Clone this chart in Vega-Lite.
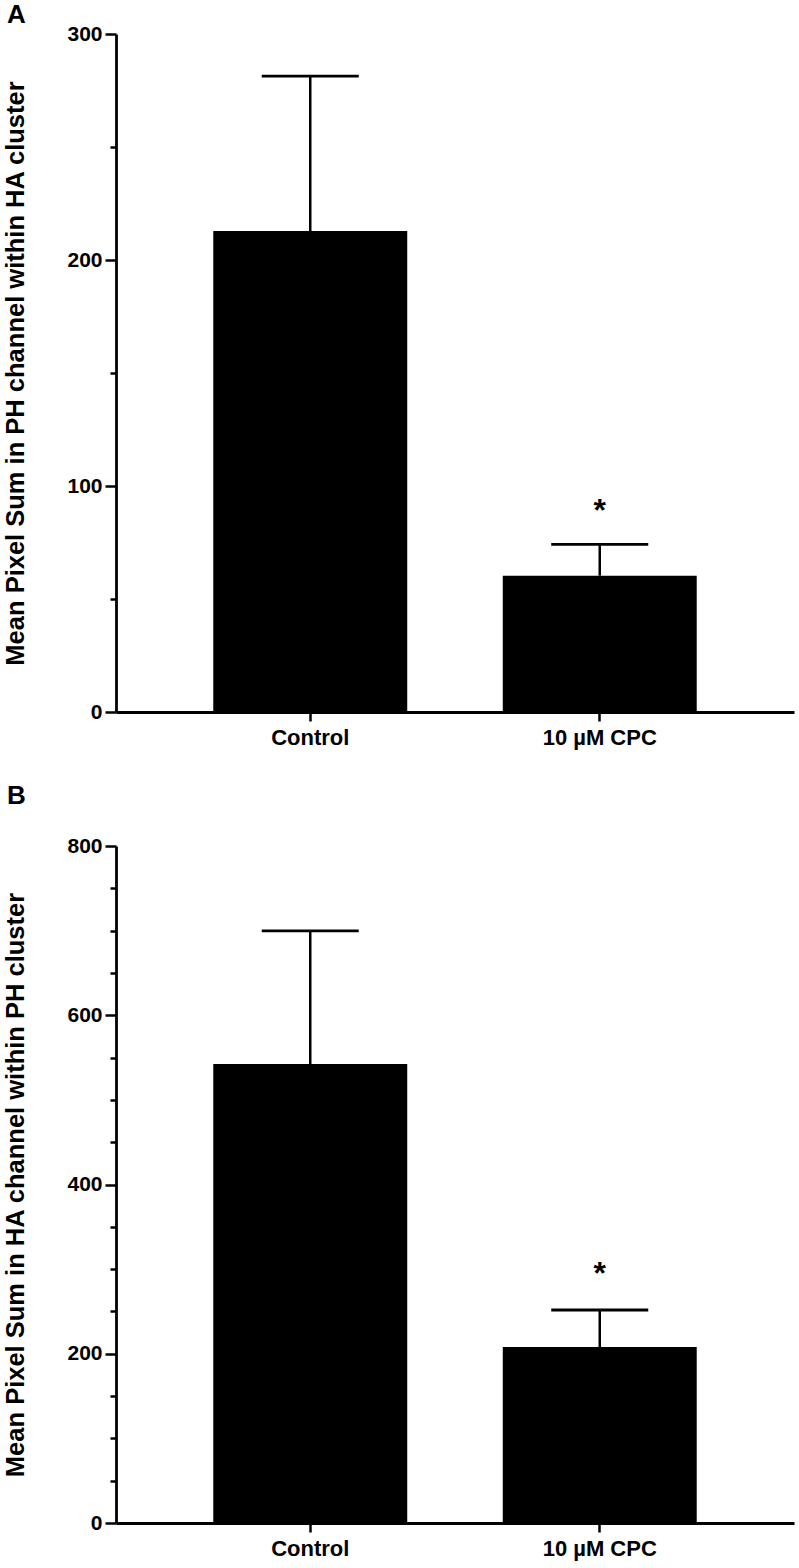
{
  "$schema": "https://vega.github.io/schema/vega-lite/v6.json",
  "background": "white",
  "padding": {"left": 3, "top": 2, "right": 3, "bottom": 5},
  "spacing": 35,
  "config": {
    "font": "Liberation Sans",
    "view": {"stroke": null},
    "axis": {
      "grid": false,
      "domainColor": "black",
      "domainWidth": 2.8,
      "tickColor": "black",
      "tickWidth": 2.5,
      "labelColor": "black",
      "labelFont": "Liberation Sans",
      "labelFontSize": 21,
      "labelFontWeight": "bold",
      "titleColor": "black",
      "titleFont": "Liberation Sans",
      "titleFontSize": 25.5,
      "titleFontWeight": "bold"
    },
    "title": {"font": "Liberation Sans", "fontSize": 26, "fontWeight": "bold", "color": "black", "anchor": "start", "frame": "bounds"}
  },
  "vconcat": [
    {
      "width": 678,
      "height": 678,
      "title": {"text": "A", "offset": -5, "dx": 3},
      "data": {"values": [
        {"group": "Control", "mean": 212.8, "upper": 281.4, "star": ""},
        {"group": "10 µM CPC", "mean": 60.3, "upper": 74.2, "star": "*"}
      ]},
      "encoding": {
        "x": {"field": "group", "type": "nominal", "sort": ["Control", "10 µM CPC"],
          "scale": {"paddingInner": 0.33, "paddingOuter": 0.336},
          "axis": {"title": null, "labelAngle": 0, "tickSize": 9, "labelPadding": 6, "labelFontSize": 22}}
      },
      "layer": [
        {"mark": {"type": "bar", "color": "black", "opacity": 1},
          "encoding": {"y": {"field": "mean", "type": "quantitative", "scale": {"domain": [0, 300]},
            "axis": {"title": "Mean Pixel Sum in PH channel within HA cluster",
              "values": [0, 50, 100, 150, 200, 250, 300],
              "labelExpr": "datum.value % 100 == 0 ? datum.label : ''",
              "tickSize": {"condition": {"test": "datum.value % 100 == 0", "value": 11}, "value": 6},
              "labelPadding": 3, "titlePadding": 38}}}},
        {"mark": {"type": "rule", "color": "black", "strokeWidth": 2.5, "opacity": 1},
          "encoding": {"y": {"field": "mean", "type": "quantitative"}, "y2": {"field": "upper"}}},
        {"mark": {"type": "tick", "color": "black", "thickness": 2.8, "size": 97, "opacity": 1},
          "encoding": {"y": {"field": "upper", "type": "quantitative"}}},
        {"mark": {"type": "text", "color": "black", "fontSize": 32, "fontWeight": "bold", "baseline": "middle", "dy": -33},
          "encoding": {"y": {"field": "upper", "type": "quantitative"}, "text": {"field": "star"}}}
      ]
    },
    {
      "width": 678,
      "height": 677,
      "title": {"text": "B", "offset": 26, "dx": 3},
      "data": {"values": [
        {"group": "Control", "mean": 542.4, "upper": 699.6, "star": ""},
        {"group": "10 µM CPC", "mean": 208.0, "upper": 251.7, "star": "*"}
      ]},
      "encoding": {
        "x": {"field": "group", "type": "nominal", "sort": ["Control", "10 µM CPC"],
          "scale": {"paddingInner": 0.33, "paddingOuter": 0.336},
          "axis": {"title": null, "labelAngle": 0, "tickSize": 9, "labelPadding": 6, "labelFontSize": 22}}
      },
      "layer": [
        {"mark": {"type": "bar", "color": "black", "opacity": 1},
          "encoding": {"y": {"field": "mean", "type": "quantitative", "scale": {"domain": [0, 800]},
            "axis": {"title": "Mean Pixel Sum in HA channel within PH cluster",
              "values": [0, 50, 100, 150, 200, 250, 300, 350, 400, 450, 500, 550, 600, 650, 700, 750, 800],
              "labelExpr": "datum.value % 200 == 0 ? datum.label : ''",
              "tickSize": {"condition": {"test": "datum.value % 200 == 0", "value": 11}, "value": 6},
              "labelPadding": 3, "titlePadding": 38}}}},
        {"mark": {"type": "rule", "color": "black", "strokeWidth": 2.5, "opacity": 1},
          "encoding": {"y": {"field": "mean", "type": "quantitative"}, "y2": {"field": "upper"}}},
        {"mark": {"type": "tick", "color": "black", "thickness": 2.8, "size": 97, "opacity": 1},
          "encoding": {"y": {"field": "upper", "type": "quantitative"}}},
        {"mark": {"type": "text", "color": "black", "fontSize": 32, "fontWeight": "bold", "baseline": "middle", "dy": -36},
          "encoding": {"y": {"field": "upper", "type": "quantitative"}, "text": {"field": "star"}}}
      ]
    }
  ]
}
